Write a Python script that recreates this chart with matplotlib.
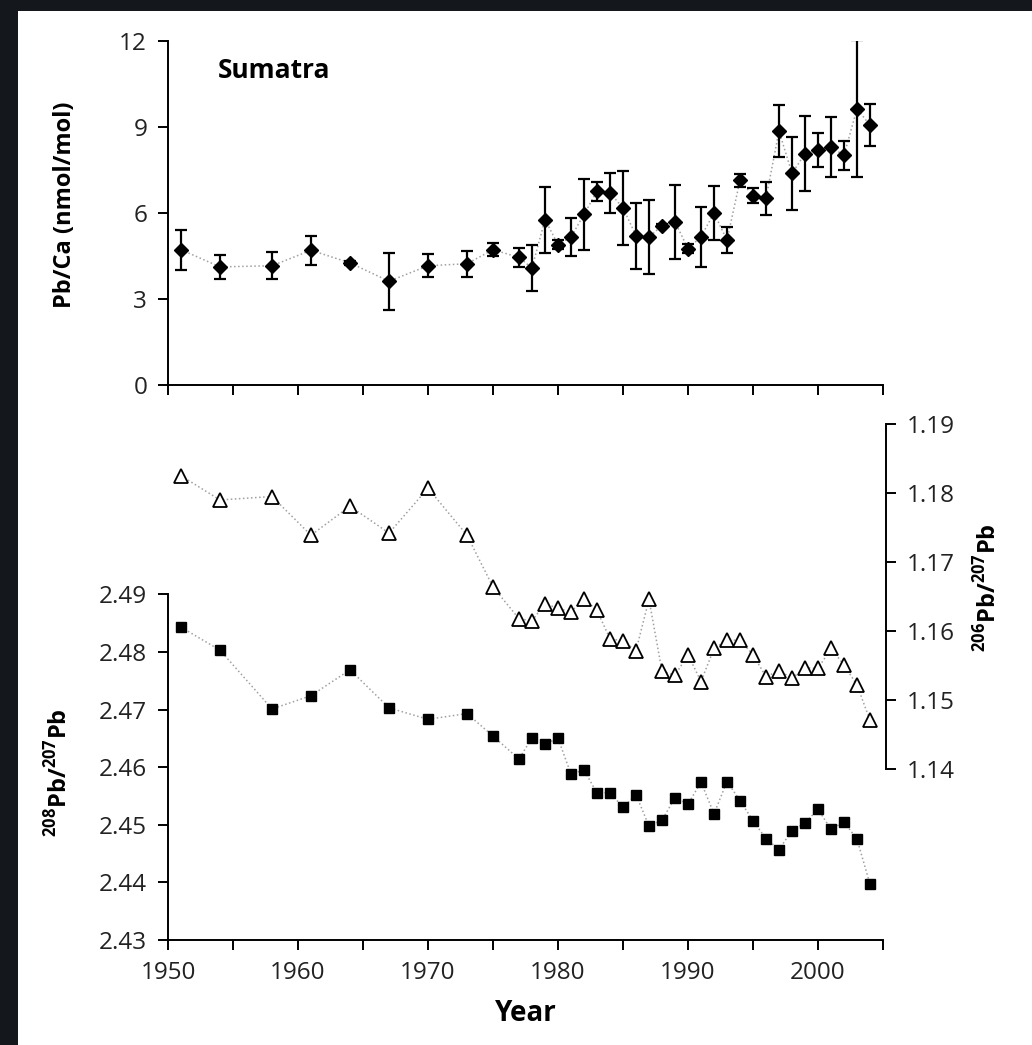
import matplotlib
matplotlib.use("Agg")
import matplotlib.pyplot as plt
from matplotlib.patches import Rectangle
from matplotlib.ticker import MultipleLocator

plt.rcParams['font.family'] = ['Open Sans', 'DejaVu Sans']
plt.rcParams['mathtext.fontset'] = 'custom'
plt.rcParams['mathtext.rm'] = 'Open Sans:bold'
plt.rcParams['mathtext.bf'] = 'Open Sans:bold'

# ---- Data ----
pbca_years = [1951, 1954, 1958, 1961, 1964, 1967, 1970, 1973, 1975, 1977, 1978,
              1979, 1980, 1981, 1982, 1983, 1984, 1985, 1986, 1987, 1988, 1989,
              1990, 1991, 1992, 1993, 1994, 1995, 1996, 1997, 1998, 1999, 2000,
              2001, 2002, 2003, 2004]
pbca_vals = [4.72, 4.12, 4.16, 4.70, 4.26, 3.62, 4.16, 4.23, 4.72, 4.45, 4.08,
             5.77, 4.90, 5.16, 5.95, 6.76, 6.70, 6.18, 5.21, 5.16, 5.56, 5.69,
             4.76, 5.17, 6.00, 5.05, 7.14, 6.61, 6.51, 8.86, 7.38, 8.07, 8.20,
             8.30, 8.01, 9.64, 9.06]
pbca_err = [0.70, 0.41, 0.47, 0.50, 0.08, 1.00, 0.40, 0.45, 0.22, 0.34, 0.80,
            1.15, 0.17, 0.65, 1.25, 0.33, 0.70, 1.30, 1.15, 1.30, 0.06, 1.30,
            0.15, 1.05, 0.95, 0.46, 0.23, 0.25, 0.58, 0.90, 1.27, 1.30, 0.60,
            1.05, 0.50, 2.40, 0.73]

iso_years = [1951, 1954, 1958, 1961, 1964, 1967, 1970, 1973, 1975, 1977, 1978,
             1979, 1980, 1981, 1982, 1983, 1984, 1985, 1986, 1987, 1988, 1989,
             1990, 1991, 1992, 1993, 1994, 1995, 1996, 1997, 1998, 1999, 2000,
             2001, 2002, 2003, 2004]
pb208_207 = [2.4843, 2.4803, 2.4701, 2.4724, 2.4769, 2.4703, 2.4683, 2.4693,
             2.4654, 2.4614, 2.4651, 2.4640, 2.4650, 2.4588, 2.4595, 2.4555,
             2.4556, 2.4530, 2.4552, 2.4498, 2.4508, 2.4547, 2.4536, 2.4574,
             2.4519, 2.4575, 2.4542, 2.4507, 2.4476, 2.4457, 2.4490, 2.4503,
             2.4527, 2.4492, 2.4505, 2.4475, 2.4397]
pb206_207 = [1.1825, 1.1790, 1.1795, 1.1739, 1.1781, 1.1742, 1.1807, 1.1739,
             1.1664, 1.1618, 1.1615, 1.1640, 1.1633, 1.1628, 1.1647, 1.1630,
             1.1589, 1.1586, 1.1572, 1.1646, 1.1542, 1.1536, 1.1566, 1.1527,
             1.1575, 1.1587, 1.1587, 1.1566, 1.1534, 1.1543, 1.1532, 1.1547,
             1.1546, 1.1575, 1.1551, 1.1522, 1.1471]

top_yticks = [0, 3, 6, 9, 12]
left_yticks = [2.43, 2.44, 2.45, 2.46, 2.47, 2.48, 2.49]
right_yticks = [1.14, 1.15, 1.16, 1.17, 1.18, 1.19]
xtick_labels = [1950, 1960, 1970, 1980, 1990, 2000]

# ---- Figure ----
W, H = 1032, 1045
fig = plt.figure(figsize=(W / 100, H / 100), dpi=100)
fig.patch.set_facecolor('#14181c')
fig.patches.append(Rectangle((18 / W, 0), 1 - 18 / W, 1 - 11 / H,
                             transform=fig.transFigure, facecolor='white',
                             edgecolor='none', zorder=-10))

TICK_FS = 17.5
TICK_COLOR = '#222222'
line_kw = dict(color='#a0a0a0', lw=1.1, ls=':')


def style(ax):
    for s in ax.spines.values():
        s.set_linewidth(1.4)
        s.set_color('black')
    ax.tick_params(which='both', direction='out', length=7, width=1.4,
                   labelsize=TICK_FS, color='black', labelcolor=TICK_COLOR)
    ax.patch.set_alpha(0)


# Top panel: Pb/Ca
ax1 = fig.add_axes([168 / W, 1 - 385 / H, 715 / W, 344 / H])
style(ax1)
ax1.spines['top'].set_visible(False)
ax1.spines['right'].set_visible(False)
ax1.plot(pbca_years, pbca_vals, **line_kw, zorder=1)
ax1.errorbar(pbca_years, pbca_vals, yerr=pbca_err, fmt='none', ecolor='black',
             elinewidth=1.6, capsize=4.5, capthick=1.6, zorder=2)
ax1.plot(pbca_years, pbca_vals, ls='none', marker='D', ms=7.2, color='black',
         zorder=3, clip_on=False)
ax1.set_xlim(1950, 2005)
ax1.set_ylim(0, 12)
ax1.set_yticks(top_yticks)
ax1.xaxis.set_major_locator(MultipleLocator(5))
ax1.tick_params(axis='x', labelbottom=False)
ax1.tick_params(axis='y', pad=8)
fig.text(65 / W, 1 - 205 / H, 'Pb/Ca (nmol/mol)', rotation=90,
         fontsize=17, fontweight='bold', ha='center', va='center')
ax1.text(274 / W, 1 - 71 / H, 'Sumatra', transform=fig.transFigure,
         fontsize=19, fontweight='bold', ha='center', va='center')

# Bottom-left: 208Pb/207Pb
ax2 = fig.add_axes([168 / W, 1 - 940 / H, 715 / W, 345.7 / H])
style(ax2)
ax2.spines['top'].set_visible(False)
ax2.spines['right'].set_visible(False)
ax2.plot(iso_years, pb208_207, **line_kw, zorder=1)
ax2.plot(iso_years, pb208_207, ls='none', marker='s', ms=7.2, color='black',
         zorder=3, clip_on=False)
ax2.set_xlim(1950, 2005)
ax2.set_ylim(2.43, 2.49)
ax2.set_yticks(left_yticks)
ax2.set_yticklabels(['%.2f' % v for v in left_yticks])
ax2.set_xticks(xtick_labels)
ax2.set_xticklabels([str(v) for v in xtick_labels])
ax2.xaxis.set_minor_locator(MultipleLocator(5))
ax2.tick_params(axis='x', pad=8)
ax2.tick_params(axis='y', pad=8)
ax2.set_xlabel('Year', fontsize=20, fontweight='bold', labelpad=10)

# Bottom-right: 206Pb/207Pb
ax3 = fig.add_axes([168 / W, 1 - 769.3 / H, 715 / W, 345.3 / H])
style(ax3)
for s in ('top', 'left', 'bottom'):
    ax3.spines[s].set_visible(False)
ax3.spines['right'].set_position(('outward', 2))
ax3.yaxis.tick_right()
ax3.yaxis.set_label_position('right')
ax3.plot(iso_years, pb206_207, **line_kw, zorder=1)
ax3.plot(iso_years, pb206_207, ls='none', marker='^', ms=10.5,
         markerfacecolor='white', markeredgecolor='black', mew=1.3,
         zorder=3, clip_on=False)
ax3.set_xlim(1950, 2005)
ax3.set_ylim(1.14, 1.19)
ax3.set_yticks(right_yticks)
ax3.set_yticklabels(['%.2f' % v for v in right_yticks])
ax3.set_xticks([])
ax3.tick_params(axis='y', pad=8)

fig.text(59 / W, 1 - 773 / H, r'$^{208}$Pb/$^{207}$Pb', rotation=90,
         fontsize=17, fontweight='bold', ha='center', va='center')
fig.text(988 / W, 1 - 588 / H, r'$^{206}$Pb/$^{207}$Pb', rotation=90,
         fontsize=17, fontweight='bold', ha='center', va='center')

fig.savefig('out.png', dpi=100, facecolor=fig.get_facecolor())
